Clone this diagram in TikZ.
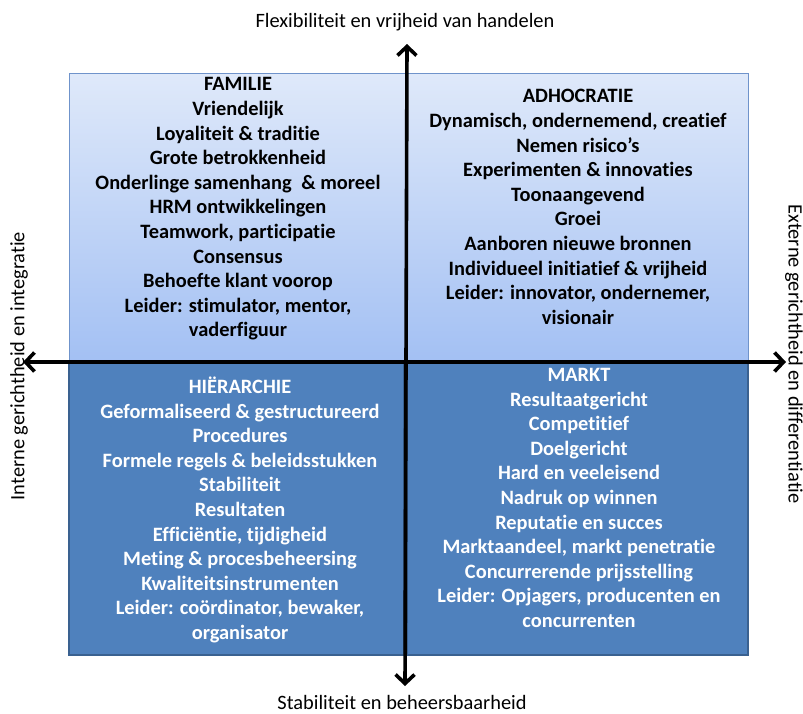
\documentclass[tikz,border=0pt]{standalone}
\usepackage{fontspec}
\setmainfont[Ligatures=NoCommon]{Carlito}
\usetikzlibrary{arrows.meta}
\definecolor{lightTop}{HTML}{DFE9FA}
\definecolor{lightBot}{HTML}{A3C0F3}
\definecolor{lightEdge}{HTML}{6F93CB}
\definecolor{darkFill}{HTML}{4F81BD}
\definecolor{darkEdge}{HTML}{3A6190}
\tikzset{
  lightbox/.style={top color=lightTop, bottom color=lightBot, draw=lightEdge, line width=1pt},
  darkbox/.style={fill=darkFill, draw=darkEdge, line width=1.6pt},
  quadtext/.style={align=center, inner sep=0pt, font=\fontsize{20.4}{24.6}\selectfont\bfseries},
  axislabel/.style={inner sep=0pt, font=\fontsize{20.4}{24.6}\selectfont},
  axis/.style={line width=3.6pt, -{Straight Barb[length=9pt,width=19pt,line width=3.6pt]}}
}
\begin{document}
\begin{tikzpicture}[x=1pt,y=-1pt]
\useasboundingbox (0,0) rectangle (803,713);

% quadrant panels
\draw[lightbox] (69,73) rectangle (407,362);
\draw[lightbox] (407,73) rectangle (748,362);
\draw[darkbox] (69,362) rectangle (404,655);
\draw[darkbox] (407,362) rectangle (748,655);

% quadrant contents
\node[quadtext] (familie) at (238,209) {FAMILIE\\Vriendelijk\\Loyaliteit \& traditie\\Grote betrokkenheid\\Onderlinge samenhang\hspace{0.25em} \& moreel\\HRM ontwikkelingen\\Teamwork, participatie\\Consensus\\Behoefte klant voorop\\Leider: stimulator, mentor,\\vaderfiguur};
\node[quadtext] (adhocratie) at (578,207) {ADHOCRATIE\\Dynamisch, ondernemend, creatief\\Nemen risico’s\\Experimenten \& innovaties\\Toonaangevend\\Groei\\Aanboren nieuwe bronnen\\Individueel initiatief \& vrijheid\\Leider: innovator, ondernemer,\\visionair};
\node[quadtext, text=white] (hierarchie) at (240,510) {HIËRARCHIE\\Geformaliseerd \& gestructureerd\\Procedures\\Formele regels \& beleidsstukken\\Stabiliteit\\Resultaten\\Efficiëntie, tijdigheid\\Meting \& procesbeheersing\\Kwaliteitsinstrumenten\\Leider: coördinator, bewaker,\\organisator};
\node[quadtext, text=white] (markt) at (579,498) {MARKT\\Resultaatgericht\\Competitief\\Doelgericht\\Hard en veeleisend\\Nadruk op winnen\\Reputatie en succes\\Marktaandeel, markt penetratie\\Concurrerende prijsstelling\\Leider: Opjagers, producenten en\\concurrenten};

% axis end points
\coordinate (center) at (406,362);
\coordinate (topEnd) at (407,44);
\coordinate (bottomEnd) at (405,686);
\coordinate (leftEnd) at (23,362);
\coordinate (rightEnd) at (786,362);

% axes
\draw[axis] (center) -- (topEnd);
\draw[axis] (center) -- (bottomEnd);
\draw[axis] (center) -- (leftEnd);
\draw[axis] (center) -- (rightEnd);

% axis labels
\node[axislabel] (flex) at (405,22) {Flexibiliteit en vrijheid van handelen};
\node[axislabel] (stab) at (402,702) {Stabiliteit en beheersbaarheid};
\node[axislabel, rotate=90] (intern) at (19,366) {Interne gerichtheid en integratie};
\node[axislabel, rotate=-90] (extern) at (794,354) {Externe gerichtheid en differentiatie};
\end{tikzpicture}
\end{document}
